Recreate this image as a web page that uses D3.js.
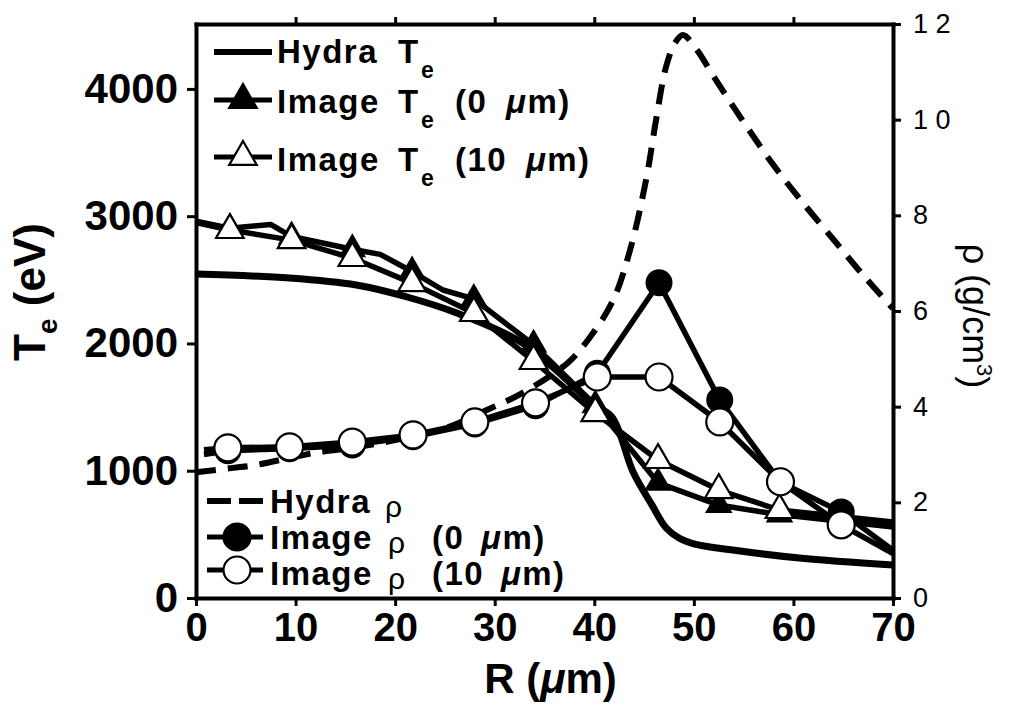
<!DOCTYPE html>
<html>
<head>
<meta charset="utf-8">
<script src="https://cdn.jsdelivr.net/npm/d3@7"></script>
<style>
  body { margin: 0; background: #fff; }
  svg { font-family: "Liberation Sans", Arial, Helvetica, sans-serif; }
</style>
</head>
<body>
<script>
// tick values
const rTicks = [0, 10, 20, 30, 40, 50, 60, 70];
const teTicks = [0, 1000, 2000, 3000, 4000];
const rhoTicks = [0, 2, 4, 6, 8, 10, 12];

// Hydra simulation, electron temperature (eV) vs R (um)
const hydraTeR = [0, 9.4, 16.1, 21.2, 26.2, 32.8, 40, 41.8, 43.9, 45.8, 47.2, 48.5, 50.1, 53.9, 60.6, 70];
const hydraTe = [2545, 2514, 2459, 2365, 2239, 2003, 1520, 1420, 990, 730, 552, 472, 424, 377, 314, 259];

// Hydra simulation, density (g/cm3)
const hydraRhoR = [0, 3.7, 6, 11.8, 15, 20, 25, 29.2, 32.8, 37.3, 39.6, 41.9, 43.6, 45.2, 46.2, 47.2, 48.1, 48.9, 50.3, 52, 55, 58, 61, 64, 67, 70];
const hydraRho = [2.63, 2.72, 2.78, 3.03, 3.12, 3.3, 3.55, 3.93, 4.29, 4.91, 5.46, 6.23, 7.28, 8.74, 9.99, 11.1, 11.6, 11.77, 11.46, 10.9, 9.95, 9.05, 8.25, 7.5, 6.75, 6.05];

// image analysis, temperature
const markerRTe = [3.4, 9.6, 15.7, 21.7, 27.9, 33.9, 40.1, 46.4, 52.5, 58.6];
const imgTe0R = [0, 3.4, 7.5, 9.6, 15.7, 18.5, 21.7, 24.8, 27.9, 33.9, 40.1, 46.4, 52.5, 58.6, 70];
const imgTe0 = [2960, 2905, 2935, 2840, 2740, 2700, 2565, 2420, 2350, 1990, 1515, 905, 730, 655, 558];
const imgTe10R = [0, 3.4, 9.6, 15.7, 21.7, 27.9, 33.9, 40.1, 46.4, 52.5, 58.6, 70];
const imgTe10 = [2950, 2891, 2812, 2671, 2474, 2239, 1862, 1453, 1084, 848, 691, 597];

// image analysis, density
const markerRRho = [3.2, 9.4, 15.7, 21.8, 28.0, 34.1, 40.3, 46.5, 52.6, 58.7, 64.8];
const imgRhoR = [0.8, 3.2, 9.4, 15.7, 21.8, 28.0, 34.1, 40.3, 46.5, 52.6, 58.7, 64.8, 70];
const imgRho0 = [3.0, 3.08, 3.12, 3.2, 3.37, 3.64, 4.02, 4.7, 6.59, 4.14, 2.42, 1.80, 1.0];
const imgRho10 = [3.10, 3.14, 3.16, 3.26, 3.41, 3.68, 4.08, 4.62, 4.62, 3.68, 2.43, 1.53, 0.93];

const margin = { top: 24, right: 126, bottom: 111, left: 196 },
      width = 1019 - margin.left - margin.right,
      height = 709 - margin.top - margin.bottom;

const x = d3.scaleLinear().domain([0, 70]).range([0, width]);
const yT = d3.scaleLinear().domain([0, 4510]).range([height, 0]);
const yD = d3.scaleLinear().domain([0, 12]).range([height, 0]);

const svg = d3.select("body").append("svg")
    .attr("width", 1019)
    .attr("height", 709)
  .append("g")
    .attr("transform", "translate(" + margin.left + "," + margin.top + ")");

function styleAxis(g, size, weight) {
  g.attr("font-family", null);
  g.select(".domain").attr("stroke-width", 4).attr("stroke-linecap", "square");
  g.selectAll(".tick line").attr("stroke-width", 3);
  g.selectAll(".tick text").attr("font-size", size).attr("font-weight", weight).attr("fill", "#000");
}

// axes
svg.append("g")
    .attr("transform", "translate(0," + height + ")")
    .call(d3.axisBottom(x).tickValues(rTicks).tickSize(8).tickSizeOuter(0).tickPadding(7))
    .call(g => styleAxis(g, 40, "bold"));

svg.append("g")
    .call(d3.axisTop(x).tickValues(rTicks.slice(1, -1)).tickSize(7).tickSizeOuter(0).tickFormat(""))
    .call(g => styleAxis(g, 10, "normal"));

svg.append("g")
    .call(d3.axisLeft(yT).tickValues(teTicks).tickSize(9).tickSizeOuter(0).tickPadding(9)
      .tickFormat(d3.format("d")))
    .call(g => styleAxis(g, 42, "bold"));

svg.append("g")
    .attr("transform", "translate(" + width + ",0)")
    .call(d3.axisRight(yD).tickValues(rhoTicks).tickSize(8).tickSizeOuter(0).tickPadding(12)
      .tickFormat(d => String(d).split("").join(" ")))
    .call(g => styleAxis(g, 27, "normal"));

// axis titles
const tTitle = svg.append("text")
    .attr("transform", "translate(-151,268) rotate(-90)")
    .attr("text-anchor", "middle")
    .attr("font-size", 44).attr("font-weight", "bold");
tTitle.append("tspan").text("T");
tTitle.append("tspan").attr("font-size", 28).attr("dy", 12).text("e");
tTitle.append("tspan").attr("dy", -12).text(" (eV)");

const rTitle = svg.append("text")
    .attr("x", width / 2 + 6).attr("y", 669)
    .attr("text-anchor", "middle")
    .attr("font-size", 42).attr("font-weight", "bold");
rTitle.append("tspan").text("R (");
rTitle.append("tspan").attr("font-style", "italic").text("μ");
rTitle.append("tspan").text("m)");

const dTitle = svg.append("text")
    .attr("transform", "translate(767,292) rotate(90)")
    .attr("text-anchor", "middle")
    .attr("font-size", 36);
dTitle.append("tspan").text("ρ (g/cm");
dTitle.append("tspan").attr("font-size", 22).attr("dy", -14).text("3");
dTitle.append("tspan").attr("dy", 14).text(")");

// curves
const lineT = d3.line().x(d => x(d[0])).y(d => yT(d[1]));
const lineD = d3.line().x(d => x(d[0])).y(d => yD(d[1]));

svg.append("path")
    .datum(d3.zip(hydraRhoR, hydraRho))
    .attr("d", lineD.curve(d3.curveCatmullRom))
    .attr("fill", "none").attr("stroke", "#000").attr("stroke-width", 6)
    .attr("stroke-dasharray", "20,12");

svg.append("path")
    .datum(d3.zip(hydraTeR, hydraTe))
    .attr("d", lineT.curve(d3.curveCatmullRom))
    .attr("fill", "none").attr("stroke", "#000").attr("stroke-width", 7);

lineT.curve(d3.curveLinear);
lineD.curve(d3.curveLinear);

[[imgTe0R, imgTe0], [imgTe10R, imgTe10]].forEach(s => {
  svg.append("path")
      .datum(d3.zip(s[0], s[1]))
      .attr("d", lineT)
      .attr("fill", "none").attr("stroke", "#000").attr("stroke-width", 5.5)
      .attr("stroke-linejoin", "round");
});
[imgRho0, imgRho10].forEach(s => {
  svg.append("path")
      .datum(d3.zip(imgRhoR, s))
      .attr("d", lineD)
      .attr("fill", "none").attr("stroke", "#000").attr("stroke-width", 5.5)
      .attr("stroke-linejoin", "round");
});

// markers
const tri = d3.symbol().type(d3.symbolTriangle).size(330);

svg.selectAll(".tri0")
    .data(d3.zip(imgTe0R, imgTe0).filter(d => markerRTe.includes(d[0])))
    .enter().append("path")
    .attr("class", "tri0")
    .attr("d", tri)
    .attr("transform", d => "translate(" + x(d[0]) + "," + yT(d[1]) + ")")
    .attr("fill", "#000");

svg.selectAll(".dot0")
    .data(d3.zip(imgRhoR, imgRho0).filter(d => markerRRho.includes(d[0])))
    .enter().append("circle")
    .attr("class", "dot0")
    .attr("r", 13.5)
    .attr("cx", d => x(d[0]))
    .attr("cy", d => yD(d[1]))
    .attr("fill", "#000");

svg.selectAll(".tri10")
    .data(d3.zip(imgTe10R, imgTe10).filter(d => markerRTe.includes(d[0])))
    .enter().append("path")
    .attr("class", "tri10")
    .attr("d", tri)
    .attr("transform", d => "translate(" + x(d[0]) + "," + yT(d[1]) + ")")
    .attr("fill", "#fff").attr("stroke", "#000").attr("stroke-width", 2.2);

svg.selectAll(".dot10")
    .data(d3.zip(imgRhoR, imgRho10).filter(d => markerRRho.includes(d[0])))
    .enter().append("circle")
    .attr("class", "dot10")
    .attr("r", 13.5)
    .attr("cx", d => x(d[0]))
    .attr("cy", d => yD(d[1]))
    .attr("fill", "#fff").attr("stroke", "#000").attr("stroke-width", 2.2);

// legend, temperature
const legT = svg.append("g").attr("font-size", 33).attr("font-weight", "bold")
    .attr("letter-spacing", 1.5).attr("word-spacing", 8);
[28, 76, 133].forEach((yy, i) => {
  legT.append("line").attr("x1", 18).attr("x2", 76).attr("y1", yy).attr("y2", yy)
      .attr("stroke", "#000").attr("stroke-width", i === 0 ? 6 : 5);
  if (i > 0) {
    legT.append("path").attr("d", tri)
        .attr("transform", "translate(47," + yy + ")")
        .attr("fill", i === 1 ? "#000" : "#fff").attr("stroke", "#000").attr("stroke-width", 2.2);
  }
  const t = legT.append("text").attr("x", 81).attr("y", yy + 11 + (i === 2 ? 1 : 0) + (i === 0 ? 0 : 2));
  t.append("tspan").text(i === 0 ? "Hydra" : "Image");
  t.append("tspan").attr("x", 202).text("T");
  t.append("tspan").attr("x", 225).attr("dy", 15).attr("font-size", 23).text("e");
  if (i > 0) {
    t.append("tspan").attr("x", 259).attr("dy", -15).text(i === 1 ? "(0 " : "(10 ");
    t.append("tspan").attr("font-style", "italic").text("μ");
    t.append("tspan").text("m)");
  }
});

// legend, density
const legD = svg.append("g").attr("font-size", 33).attr("font-weight", "bold")
    .attr("letter-spacing", 1.5).attr("word-spacing", 6);
[477, 513, 546].forEach((yy, i) => {
  legD.append("line").attr("x1", 11).attr("x2", 67).attr("y1", yy).attr("y2", yy)
      .attr("stroke", "#000").attr("stroke-width", i === 0 ? 6 : 5)
      .attr("stroke-dasharray", i === 0 ? "24,8" : null);
  if (i > 0) {
    legD.append("circle").attr("cx", 41).attr("cy", yy).attr("r", 13.5)
        .attr("fill", i === 1 ? "#000" : "#fff").attr("stroke", "#000").attr("stroke-width", 2.2);
  }
  const t = legD.append("text").attr("x", 74).attr("y", yy + 12 + (i === 2 ? 3 : 0));
  t.append("tspan").text(i === 0 ? "Hydra" : "Image");
  t.append("tspan").attr("x", i === 0 ? 189 : 192).attr("font-weight", "normal")
      .attr("font-size", 30).attr("dy", 4).text("ρ");
  if (i > 0) {
    t.append("tspan").attr("x", 236).attr("dy", -4).text(i === 1 ? "(0 " : "(10 ");
    t.append("tspan").attr("font-style", "italic").text("μ");
    t.append("tspan").text("m)");
  }
});
</script>
</body>
</html>
